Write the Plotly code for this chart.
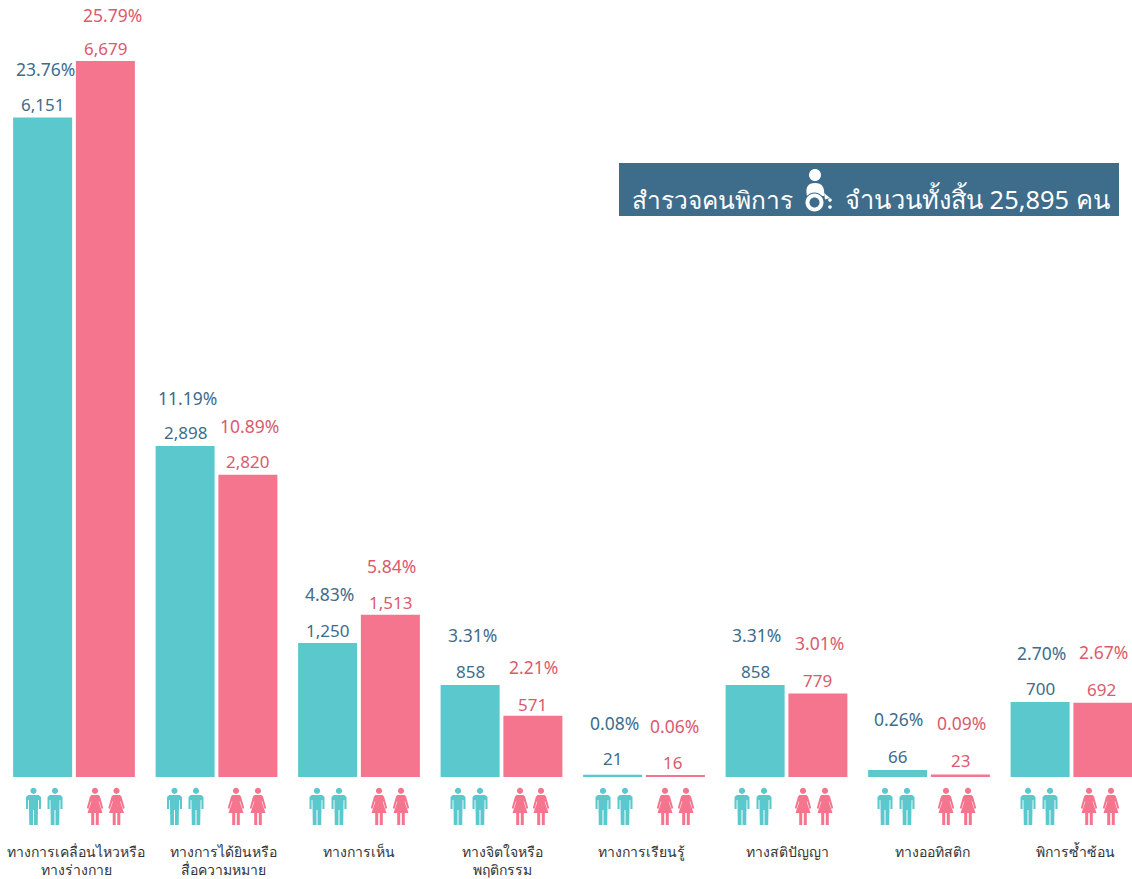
import plotly.graph_objects as go

categories = ["ทางการเคลื่อนไหวหรือ<br>ทางร่างกาย", "ทางการได้ยินหรือ<br>สื่อความหมาย", "ทางการเห็น",
              "ทางจิตใจหรือ<br>พฤติกรรม", "ทางการเรียนรู้", "ทางสติปัญญา", "ทางออทิสติก", "พิการซ้ำซ้อน"]
# Drawn bar heights (the second male bar is taller than its printed label)
male_values = [6151, 3088, 1250, 858, 21, 858, 66, 700]
female_values = [6679, 2820, 1513, 571, 16, 779, 23, 692]
male_labels = ["6,151", "2,898", "1,250", "858", "21", "858", "66", "700"]
female_labels = ["6,679", "2,820", "1,513", "571", "16", "779", "23", "692"]
male_pct = ["23.76%", "11.19%", "4.83%", "3.31%", "0.08%", "3.31%", "0.26%", "2.70%"]
female_pct = ["25.79%", "10.89%", "5.84%", "2.21%", "0.06%", "3.01%", "0.09%", "2.67%"]

TEAL, PINK, BLUE_T, RED_T = "#5AC8CD", "#F5758E", "#3E6C8B", "#D95B6E"
FONT = "Noto Sans, Open Sans, sans-serif"
W, H, BASE = 1132, 879, 777
STEP = 142.5
FIRST = 74.0
xs = list(range(len(categories)))

fig = go.Figure()
fig.add_bar(x=xs, y=male_values, marker_color=TEAL, name="ชาย", marker_line_width=0)
fig.add_bar(x=xs, y=female_values, marker_color=PINK, name="หญิง", marker_line_width=0)


def circ(cx, cy, r):
    k = 0.5523 * r
    return (f"M{cx-r},{cy} C{cx-r},{cy-k} {cx-k},{cy-r} {cx},{cy-r} C{cx+k},{cy-r} {cx+r},{cy-k} {cx+r},{cy} "
            f"C{cx+r},{cy+k} {cx+k},{cy+r} {cx},{cy+r} C{cx-k},{cy+r} {cx-r},{cy+k} {cx-r},{cy} Z ")


def flip(points):
    return " ".join(f"{c}{x},{-y}" if c in "ML" else "Z" for c, x, y in points)


def man(dx):
    body = [("M", -5.2, 18), ("L", 5.2, 18), ("L", 7.5, 20), ("L", 7.5, 32), ("L", 5.4, 32), ("L", 5.4, 23),
            ("L", 4.6, 23), ("L", 4.2, 48), ("L", 0.5, 48), ("L", 0.5, 33), ("L", -0.5, 33), ("L", -0.5, 48),
            ("L", -4.2, 48), ("L", -4.6, 23), ("L", -5.4, 23), ("L", -5.4, 32), ("L", -7.5, 32), ("L", -7.5, 20)]
    pts = [(c, x + dx, y) for c, x, y in body] + [("Z", 0, 0)]
    return circ(dx, -13.8, 3.1) + flip(pts)


def woman(dx):
    body = [("M", -3.5, 18), ("L", 3.5, 18), ("L", 5, 19.5), ("L", 8.2, 31), ("L", 6.6, 32), ("L", 4.2, 24.5),
            ("L", 3.6, 24.5), ("L", 7.5, 36), ("L", 3.8, 36), ("L", 3.8, 48), ("L", 0.8, 48), ("L", 0.8, 36),
            ("L", -0.8, 36), ("L", -0.8, 48), ("L", -3.8, 48), ("L", -3.8, 36), ("L", -7.5, 36), ("L", -3.6, 24.5),
            ("L", -4.2, 24.5), ("L", -6.6, 32), ("L", -8.2, 31), ("L", -5, 19.5)]
    pts = [(c, x + dx, y) for c, x, y in body] + [("Z", 0, 0)]
    return circ(dx, -13.8, 3.1) + flip(pts)


icon_shift = [(-40.5, -19, 21, 42.5), (-42, -20.5, 19.5, 41.5), (-42, -20, 20, 42), (-43.5, -21.5, 18.5, 39.5),
              (-41, -19, 21, 42), (-44.5, -22.5, 16.5, 38.5), (-44, -22, 17, 39), (-43.5, -21.5, 17.5, 39.5)]
shapes = []
for i, sh in zip(xs, icon_shift):
    for dx, fn, col in ((sh[0], man, TEAL), (sh[1], man, TEAL), (sh[2], woman, PINK), (sh[3], woman, PINK)):
        shapes.append(dict(type="path", xref="x", yref="paper", xsizemode="pixel", ysizemode="pixel",
                           xanchor=i, yanchor=0, path=fn(dx), fillcolor=col, line_width=0, layer="above"))

# banner
shapes.append(dict(type="rect", xref="paper", yref="paper", x0=619 / W, x1=1119 / W, y0=1 - 216 / BASE, y1=1 - 163 / BASE,
                   fillcolor=BLUE_T, line_width=0, layer="below"))


def icon_part(path, color):
    shapes.append(dict(type="path", xref="paper", yref="paper", xsizemode="pixel", ysizemode="pixel", xanchor=0, yanchor=1,
                       path=path, fillcolor=color, line_width=0, layer="above"))


icon_part(circ(815, -175, 6), "white")
icon_part("M807,-196 C805,-187 808,-183 815,-183 C822,-183 825,-187 824,-196 Z", "white")
icon_part(circ(814.5, -202.5, 10), BLUE_T)
icon_part(circ(814.5, -202.5, 9), "white")
icon_part(circ(814.5, -202.5, 5), BLUE_T)
icon_part("M824,-193 L830,-198 L825,-199.5 Z", "white")
icon_part(circ(830, -200, 1.8), "white")
icon_part(circ(830, -207, 1.8), "white")

ann = []
OFF = 31.4
val_size, pct_size = 17, 17.5
male_pct_dx, male_pct_dy = [1, 1, 0, 1, 0, 0, -1, 0], [1, 0, 1, 2, 4, 2, 3, 1]
female_pct_dx, female_pct_dy = [6, 0, 0, -1, -2, 0, 0, -1], [-2, 1, 1, 1, 1, 2, 4, 3]
male_val_dy = [0, 0, 0, 1, 3, 1, 0, 0]
female_val_dx, female_val_dy = [0, 0, 0, 0, -3, 0, 0, -1], [0, 0, -1, -2, 0, 0, 1, 0]
for i in xs:
    for sign, vals, labs, pcts, col, pdx, pdy, vdx, vdy in (
            (-1, male_values, male_labels, male_pct, BLUE_T, male_pct_dx, male_pct_dy, [0] * 8, male_val_dy),
            (1, female_values, female_labels, female_pct, RED_T, female_pct_dx, female_pct_dy, female_val_dx, female_val_dy)):
        ann.append(dict(x=i, y=vals[i], text=labs[i], xref="x", yref="y", xshift=sign * OFF + vdx[i], yshift=13 + vdy[i],
                        showarrow=False, font=dict(size=val_size, color=col, family=FONT), yanchor="middle"))
        ann.append(dict(x=i, y=vals[i], text=pcts[i], xref="x", yref="y", xshift=sign * OFF + 1.5 + pdx[i], yshift=48 + pdy[i],
                        showarrow=False, font=dict(size=pct_size, color=col, family=FONT), yanchor="middle"))
ann.append(dict(xref="paper", yref="paper", x=630 / W, y=1 - 199 / BASE, text="สำรวจคนพิการ", showarrow=False, xanchor="left",
                yanchor="middle", font=dict(size=24.5, color="white", family=FONT)))
ann.append(dict(xref="paper", yref="paper", x=843 / W, y=1 - 199 / BASE, text="จำนวนทั้งสิ้น 25,895 คน", showarrow=False,
                xanchor="left", yanchor="middle", font=dict(size=25.4, color="white", family=FONT)))

label_shift = [2, 6.5, 0, 0.5, -3, 0.5, 3, 3.5]
fig.update_layout(
    width=W, height=H, margin=dict(l=0, r=0, t=0, b=H - BASE), paper_bgcolor="white", plot_bgcolor="white",
    barmode="group", bargap=0.119, bargroupgap=0.06, showlegend=False, shapes=shapes, annotations=ann,
    xaxis=dict(type="linear", range=[-FIRST / STEP, (W - FIRST) / STEP],
               tickmode="array", tickvals=[i + s / STEP for i, s in zip(xs, label_shift)], ticktext=categories,
               showgrid=False, zeroline=False, showline=False, ticks="", ticklabelstandoff=65,
               tickfont=dict(size=14, color="#333333", family=FONT)),
    yaxis=dict(range=[0, 6679 * BASE / 716], visible=False, showgrid=False, zeroline=False),
)
fig.write_html("out.html", config=dict(displayModeBar=False),
               post_script="document.body.style.margin='0';document.documentElement.style.overflow='hidden';")
